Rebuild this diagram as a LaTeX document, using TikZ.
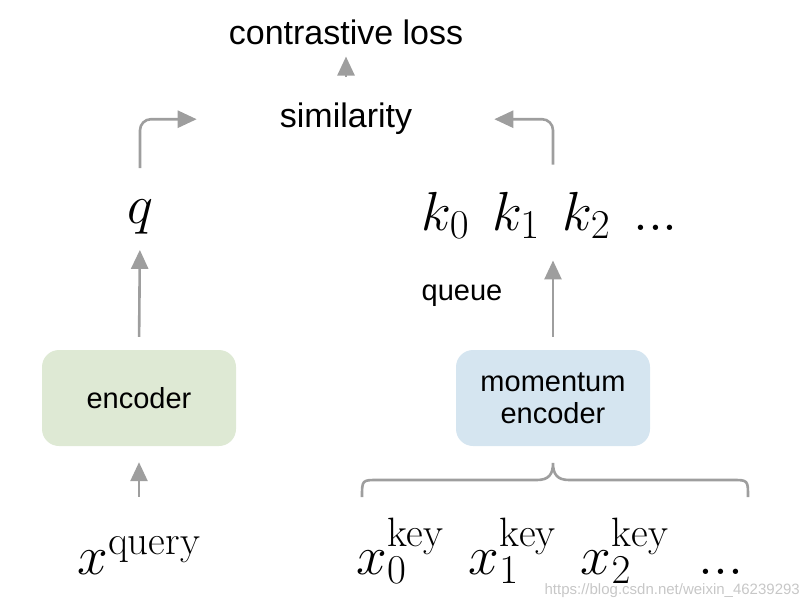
\documentclass[tikz,border=0pt]{standalone}
\usepackage{fix-cm}
\usepackage{fontspec}
\newfontfamily\sansfont{Liberation Sans}
\usepackage{tikz}
\usetikzlibrary{arrows.meta,positioning,calc}
\DeclareMathSizes{55}{55}{41}{30}

\definecolor{arrowgray}{RGB}{158,158,158}
\definecolor{encgreen}{RGB}{222,233,212}
\definecolor{encblue}{RGB}{213,229,240}

\begin{document}
\begin{tikzpicture}[x=1pt,y=-1pt]

\tikzset{
flow/.style={-{Triangle[length=19pt,width=17pt]},draw=arrowgray,line width=2.6pt,rounded corners=11pt},
bracket/.style={draw=arrowgray,line width=2.6pt},
lbl/.style={inner sep=0pt,anchor=base,font=\sansfont\fontsize{34}{40}\selectfont},
enc/.style={rounded corners=17pt,minimum width=194pt,minimum height=96pt,align=center,inner sep=0pt,font=\sansfont\fontsize{29}{34}\selectfont},
sym/.style={inner sep=0pt,anchor=base,font=\fontsize{55}{60}\selectfont},
wmark/.style={inner sep=0pt,anchor=base east,text=black!22,font=\sansfont\fontsize{15}{18}\selectfont}
}

\useasboundingbox (0,0) rectangle (808,607);

% Labels
\node[lbl] (loss) at (346,45) {contrastive loss};
\node[lbl] (sim) at (346,128) {similarity};
\node[lbl,font=\sansfont\fontsize{29}{34}\selectfont] (queue) at (462,300) {queue};

% Features
\node[sym] (q) at (140,223) {$q$};
\node[sym] (keys) at (550,230) {$k_0\hspace{0.42em}k_1\hspace{0.42em}k_2\hspace{0.42em}...$};

% Encoders
\node[enc,fill=encgreen] (enc) at (139,398) {encoder};
\node[enc,fill=encblue] (menc) at (553,398) {momentum\\[-2pt]encoder};

% Inputs
\node[sym] (xq) at (139,574) {$x^{\mathrm{query}}$};
\node[sym] (xk) at (550,574) {$x_0^{\mathrm{key}}\hspace{0.45em}x_1^{\mathrm{key}}\hspace{0.45em}x_2^{\mathrm{key}}\hspace{0.55em}...$};

% Arrows
\draw[flow,shorten <=26pt,shorten >=11pt] (sim) -- (loss);
\draw[flow,shorten <=31pt,shorten >=83pt] (q.north) |- (sim.west);
\draw[flow,shorten <=27pt,shorten >=82pt] (keys.north -| menc.north) |- (sim.east);
\draw[flow,shorten <=13pt,shorten >=16pt] (enc.north) -- (q.south);
\draw[flow,shorten <=13pt,shorten >=22pt] (menc.north) -- (menc.north |- keys.south);
\draw[flow,shorten <=39pt,shorten >=16pt] (xq.north) -- (enc.south);

% Brace
\coordinate (bl) at (362,497);
\coordinate (br) at (748,497);
\coordinate (tip) at (553,463);
\draw[bracket] (bl) .. controls (362,480) .. (378,480) -- (537,480)
  .. controls (549,480) and (553,474) .. (tip)
  .. controls (553,474) and (557,480) .. (569,480) -- (732,480)
  .. controls (748,480) .. (br);

% Watermark
\node[wmark] (url) at (800,594) {https://blog.csdn.net/weixin\_46239293};

\end{tikzpicture}
\end{document}
